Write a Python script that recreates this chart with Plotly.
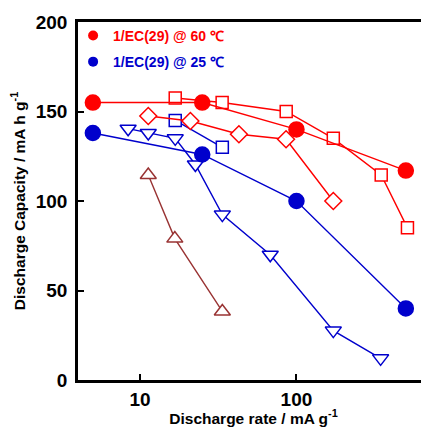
import plotly.graph_objects as go

# ---- data ----
x_circ = [5, 25, 100, 500]
y_circ_60 = [155, 155, 140, 117]
y_circ_25 = [138, 126, 100, 40]

x_sq_red = [16.8, 33.5, 86, 172, 348, 512]
y_sq_red = [157.5, 155, 150, 135, 114.5, 85]

x_dia_red = [11.3, 21, 42.9, 85.8, 172]
y_dia_red = [147.5, 144.7, 137.3, 134.5, 100]

x_sq_blue = [16.8, 33.6]
y_sq_blue = [145, 130]

x_tri_blue = [8.4, 11.3, 16.8, 22.6, 33.6, 68, 172, 345]
y_tri_blue = [140.4, 138, 135, 120.4, 92.4, 70, 27.6, 12.1]

x_tri_brown = [11.3, 16.7, 33.6]
y_tri_brown = [114.5, 79, 38.3]

x_ticks = [10, 100]
x_ticklabels = ["10", "100"]
y_ticks = [0, 50, 100, 150, 200]

legend_names = ["1/EC(29) @ 60 ℃", "1/EC(29) @ 25 ℃"]

RED = "#FF0000"
BLUE = "#0000CC"
BROWN = "#993333"
FONT = "Liberation Sans, Arial, sans-serif"

fig = go.Figure()

def add(x, y, color, symbol, size, filled=False):
    fig.add_trace(go.Scatter(
        x=x, y=y, mode="lines+markers", showlegend=False,
        line=dict(color=color, width=1.4),
        marker=dict(symbol=symbol, size=size,
                    color=color if filled else "white",
                    line=dict(color=color, width=1.5)),
    ))

add(x_tri_brown, y_tri_brown, BROWN, "triangle-up", 14)
add(x_tri_blue, y_tri_blue, BLUE, "triangle-down", 14)
add(x_sq_blue, y_sq_blue, BLUE, "square", 12)
add(x_dia_red, y_dia_red, RED, "diamond", 13)
add(x_sq_red, y_sq_red, RED, "square", 12)
add(x_circ, y_circ_25, BLUE, "circle", 15, filled=True)
add(x_circ, y_circ_60, RED, "circle", 15, filled=True)

# legend-only entries
for name, color, grp in [(legend_names[0], RED, "a"), (legend_names[1], BLUE, "b")]:
    fig.add_trace(go.Scatter(
        x=[None], y=[None], mode="markers", legendgroup=grp,
        name=f"<b><span style='color:{color}'>{name}</span></b>",
        marker=dict(symbol="circle", size=10, color=color),
    ))

# page body has an 8px margin: size the figure so the plot area lands where the reference has it
fig.update_layout(
    width=421, height=419,
    margin=dict(l=70, r=0, t=14, b=47, autoexpand=False),
    plot_bgcolor="white", paper_bgcolor="white",
    font=dict(family=FONT, color="black"),
    legend=dict(x=-0.014, y=1.006, xanchor="left", yanchor="top",
                bgcolor="rgba(0,0,0,0)", font=dict(size=14, family=FONT),
                tracegroupgap=5, itemwidth=30),
    xaxis=dict(
        type="log", range=[0.604, 2.847], automargin=False,
        tickvals=x_ticks, ticktext=x_ticklabels,
        ticks="inside", ticklen=6, tickwidth=2, tickcolor="black",
        showline=True, linewidth=2.5, linecolor="black", mirror=True,
        showgrid=False, zeroline=False,
        tickfont=dict(size=19, family=FONT, weight="bold"),
        title=dict(text="<b>Discharge rate / mA g<sup>-1</sup></b>",
                   font=dict(size=15.5, family=FONT)),
    ),
    yaxis=dict(
        range=[0, 200], tickvals=y_ticks, automargin=False,
        ticks="inside", ticklen=6, tickwidth=2, tickcolor="black",
        showline=True, linewidth=2.5, linecolor="black",
        showgrid=False, zeroline=False, ticklabelstandoff=4,
        tickfont=dict(size=19, family=FONT, weight="bold"),
        title=dict(text="<b>Discharge Capacity / mA h g<sup>-1</sup></b>",
                   font=dict(size=15.5, family=FONT)),
    ),
)

fig.write_html("out.html")
